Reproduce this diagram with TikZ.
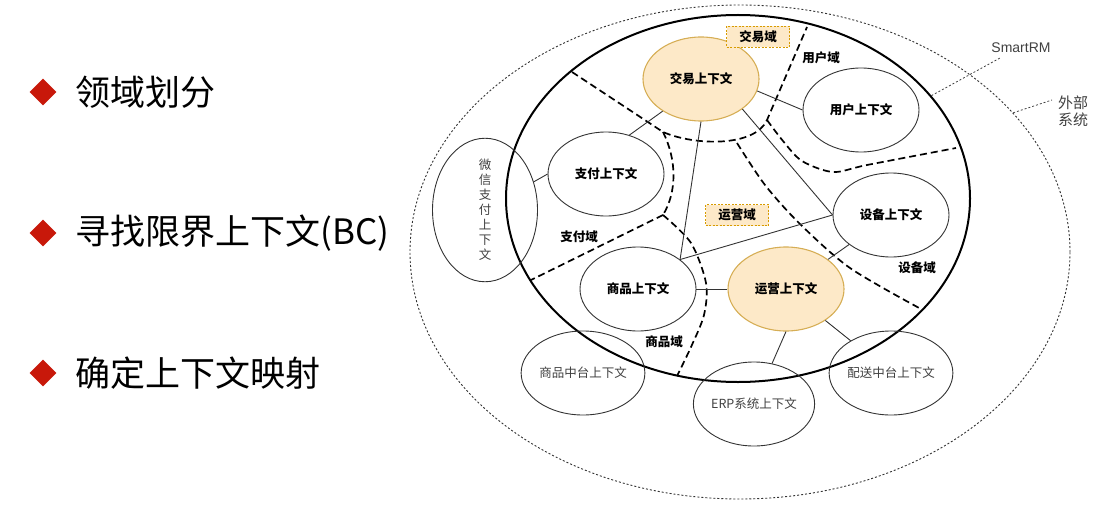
\documentclass[tikz,border=0pt]{standalone}
\usepackage{fontspec}
\setmainfont{Noto Sans CJK SC}
\newfontfamily\latinsans{Liberation Sans}
\usetikzlibrary{shapes.geometric}
\definecolor{ctxfill}{HTML}{FDE9C8}
\definecolor{ctxline}{HTML}{D6AE55}
\definecolor{tagline}{HTML}{D79B00}
\definecolor{bulletred}{HTML}{C8180A}

\begin{document}
\begin{tikzpicture}[x=1pt, y=-1pt,
        ctx/.style={draw=black!80, line width=0.9pt, ellipse, minimum width=116pt, minimum height=84pt, inner sep=0pt, font=\fontsize{12.5}{15}\selectfont\bfseries},
        extctx/.style={ctx, text=black!75, font=\fontsize{12.5}{15}\selectfont},
        core/.style={ctx, fill=ctxfill, draw=ctxline, line width=1.1pt},
        domtag/.style={draw=tagline, fill=ctxfill, dash pattern=on 2pt off 1.5pt, minimum width=63pt, minimum height=21pt, inner sep=0pt, font=\fontsize{12.5}{15}\selectfont\bfseries},
        domname/.style={inner sep=0pt, font=\fontsize{12.5}{15}\selectfont\bfseries},
        border/.style={line width=1.7pt, dash pattern=on 7pt off 4pt},
        link/.style={draw=black!80, line width=0.9pt},
        leader/.style={draw=black!75, line width=0.8pt, dash pattern=on 2pt off 2pt},
        bullet/.style={diamond, fill=bulletred, minimum width=27pt, minimum height=27pt, inner sep=0pt},
        item/.style={anchor=west, inner sep=0pt, font=\fontsize{35}{40}\selectfont}]
    \useasboundingbox (0,0) rectangle (1113,508);

    % left column
    \node[bullet] (bul1) at (43,92) {};
    \node[item] (split) at (75,92) {领域划分};
    \node[bullet] (bul2) at (43,233) {};
    \node[item] (findbc) at (75,233) {寻找限界上下文(BC)};
    \node[bullet] (bul3) at (43,373) {};
    \node[item] (mapping) at (75,373) {确定上下文映射};

    % system and external boundary
    \node[draw=black!80, ellipse, line width=0.9pt, dash pattern=on 2pt off 2pt, minimum width=660pt, minimum height=494pt] (outer) at (740,252) {};
    \node[draw, ellipse, line width=2pt, minimum width=464pt, minimum height=367pt] (smartrm) at (738,198.5) {};

    % domain borders
    \begin{scope}[border]
        \draw (572,72) -- (663,132) .. controls (695,146) and (755,147) .. (767,120) -- (807,27);
        \draw (663,132) .. controls (677,160) and (677,192) .. (663,215);
        \draw (663,215) -- (531,280);
        \draw plot[smooth] coordinates {(663,215) (691,243) (706,283) (704,315) (691,347) (677,376)};
        \draw plot[smooth] coordinates {(737,143) (765,185) (800,224) (850,268) (921,309)};
        \draw plot[smooth] coordinates {(767,120) (783,141) (802,161) (833,172) (867,165) (956,148)};
    \end{scope}

    % contexts
    \node[core] (jiaoyi) at (701,79) {交易上下文};
    \node[ctx] (yonghu) at (861,110) {用户上下文};
    \node[ctx] (zhifu) at (606,174) {支付上下文};
    \node[ctx] (shebei) at (891,215) {设备上下文};
    \node[ctx] (shangpin) at (638,289) {商品上下文};
    \node[core] (yunying) at (786,289) {运营上下文};
    \node[extctx] (spzt) at (583,373) {商品中台上下文};
    \node[extctx] (erp) at (754,404) {ERP系统上下文};
    \node[extctx] (peisong) at (891,373) {配送中台上下文};
    \node[extctx, minimum width=105pt, minimum height=136pt, align=center, font=\fontsize{12.5}{15}\selectfont] (weixin) at (485,210) {微\\信\\支\\付\\上\\下\\文};

    % domain names
    \node[domtag] (jiaoyidom) at (758,37) {交易域};
    \node[domtag] (yunyingdom) at (737,215) {运营域};
    \node[domname] (yonghudom) at (821,58) {用户域};
    \node[domname] (zhifudom) at (579,237) {支付域};
    \node[domname] (shebeidom) at (917,268) {设备域};
    \node[domname] (shangpindom) at (664,342) {商品域};

    \begin{scope}[link]
        \draw (jiaoyi.220) -- (zhifu.59);
        \draw (jiaoyi.-12) -- (yonghu.west);
        \draw (jiaoyi.south) -- (shangpin.35);
        \draw (jiaoyi.-36) -- (shebei.west);
        \draw (shangpin.35) -- (shebei.west);
        \draw (shangpin) -- (yunying);
        \draw (yunying) -- (shebei);
        \draw (yunying.south) -- (erp.66);
        \draw (yunying) -- (peisong);
        \draw (weixin.30) -- (zhifu.west);
    \end{scope}

    % labels outside
    \node[inner sep=0pt, text=black!75, font=\latinsans\fontsize{14}{16}\selectfont] (smartrmlabel) at (1021,48) {SmartRM};
    \coordinate (smartrmtip) at (1000,58);
    \draw[leader] (smartrm.28) -- (smartrmtip);
    \node[inner sep=0pt, text=black!75, align=left, font=\fontsize{15}{17}\selectfont] (outerlabel) at (1073,111) {外部\\系统};
    \coordinate (outertip) at (1052,100);
    \draw[leader] (outer.27) -- (outertip);
\end{tikzpicture}
\end{document}
